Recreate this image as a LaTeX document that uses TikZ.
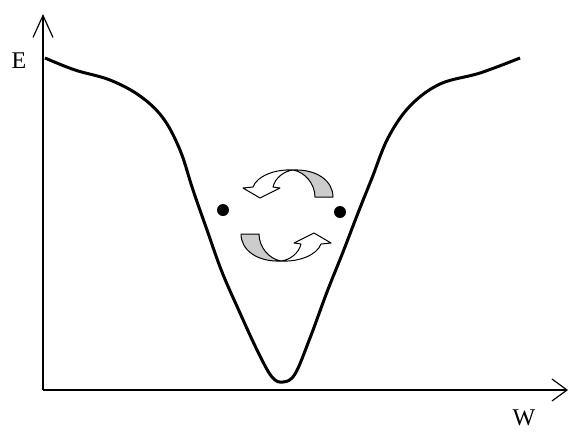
\documentclass[tikz,border=0pt]{standalone}
\usepackage{fontspec}
\setmainfont{Liberation Serif}
\usepackage{tikz}
\usetikzlibrary{arrows.meta,positioning}
\definecolor{ribbongray}{RGB}{204,204,204}
\tikzset{
  axisline/.style={line width=1.2pt, draw=black},
  yarrow/.style={-{Straight Barb[length=22pt,width=20pt,line width=1.2pt]}},
  xarrow/.style={-{Straight Barb[length=15pt,width=22pt,line width=1.2pt]}},
  energycurve/.style={line width=3pt, draw=black, line join=round},
  dotnode/.style={circle, fill=black, minimum size=12pt, inner sep=0pt},
  axislabel/.style={font=\fontsize{24}{26}\selectfont, inner sep=0pt},
  backpart/.style={fill=ribbongray, draw=black, line width=1pt, line join=round},
  frontpart/.style={fill=white, draw=black, line width=1pt, line join=round}
}
% one half of the turning ribbon, drawn round its own centre (y up)
\newcommand{\turnarrow}{%
  \draw[backpart] (28,19) -- (46,19) .. controls (46,35) and (30,47) .. (6,46)
    .. controls (18,44) and (28,32) .. (28,19) -- cycle;
  \draw[frontpart] (6,46) .. controls (-12,47) and (-30,40) .. (-34,29)
    -- (-44,28) -- (-27,18) -- (-7,28) -- (-14,29)
    .. controls (-12,38) and (-3,45) .. (6,46) -- cycle;
}
\begin{document}
\begin{tikzpicture}[x=1pt, y=-1pt]
\useasboundingbox (0,0) rectangle (568,432);

% ---- Axes ----
\coordinate (origin) at (43,390);
\coordinate (ytip) at (43,14);
\coordinate (xtip) at (568,390);
\draw[axisline, yarrow] (origin) -- (ytip);
\draw[axisline, xarrow] (origin) -- (xtip);
\node[axislabel] (Elabel) at (19,61) {E};
\node[axislabel] (Wlabel) at (524,418) {W};

% ---- Energy curve ----
\draw[energycurve] plot[smooth, tension=0.6] coordinates {
  (45,58) (75,70) (110,80) (140,96) (163,118) (180,150) (193,190)
  (207,230) (222,272) (240,313) (258,352) (272,377) (283,382)
  (295,374) (310,338) (327,292) (343,252) (358,213) (372,178)
  (388,138) (410,106) (440,84) (480,73) (520,58)};

% ---- Two states ----
\node[dotnode] (leftdot) at (223,210) {};
\node[dotnode] (rightdot) at (340,212) {};

% ---- Exchange arrows ----
\begin{scope}[xshift=287pt, yshift=-216pt, y=1pt]
  \turnarrow
\end{scope}
\begin{scope}[xshift=287pt, yshift=-215pt, y=1pt, rotate=180]
  \turnarrow
\end{scope}

\end{tikzpicture}
\end{document}
